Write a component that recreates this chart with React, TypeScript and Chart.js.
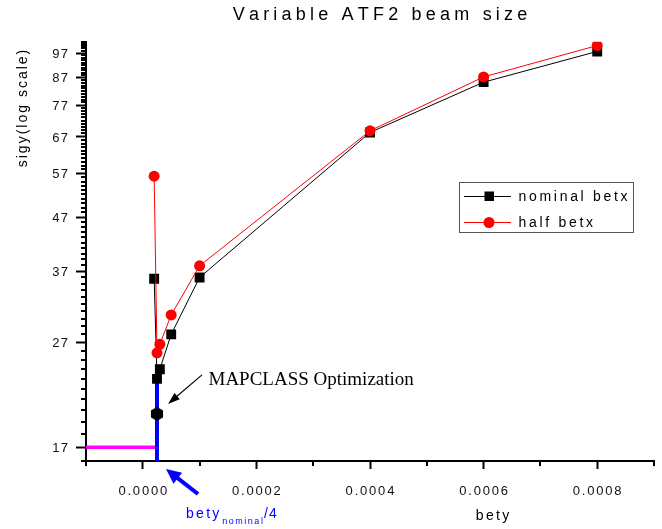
import React, { useEffect, useRef } from 'react';
import { Chart, registerables } from 'chart.js';

Chart.register(...registerables);

// ---- data ----
const BETY = [0.00002, 0.000025, 0.00003, 0.00005, 0.0001, 0.0004, 0.0006, 0.0008];
const SIGY_NOMINAL_BETX = [35.8, 23.0, 24.0, 28.0, 36.0, 68.3, 85.3, 97.7];
const SIGY_HALF_BETX = [56.3, 25.8, 26.8, 30.5, 37.9, 68.8, 87.3, 100.3];
const MAPCLASS_BETY = [0.000025];
const MAPCLASS_SIGY = [19.7];
const BETY_NOMINAL_QUARTER = 0.000025;
const SIGY_TARGET = 17;
const BLUE_LINE_SIGY = [16, 23.2];

const X_MIN = -0.0001;
const X_MAX = 0.0009;
const X_TICKS = [-0.0001, 0, 0.0001, 0.0002, 0.0003, 0.0004, 0.0005, 0.0006, 0.0007, 0.0008, 0.0009];
const Y_MIN = 16;
const Y_MAX = 102;
const Y_LABELS = [17, 27, 37, 47, 57, 67, 77, 87, 97];
const Y_TICKS: number[] = [];
for (let v = Y_MIN; v <= Y_MAX; v++) Y_TICKS.push(v);

const SANS = '"Liberation Sans", Arial, sans-serif';
const SERIF = '"Liberation Serif", "Times New Roman", serif';

const isMajorX = (v: number) => Math.round(v * 1e4) % 2 === 0;
const isMajorY = (v: number) => Y_LABELS.includes(Math.round(v));
const xLabel = (v: number) => (isMajorX(v) ? (Math.abs(v) < 1e-12 ? 0 : v).toFixed(4) : '');
const yLabel = (v: number) => (isMajorY(v) ? String(Math.round(v)) : '');

function spacedWidth(ctx: CanvasRenderingContext2D, text: string, sp: number) {
  let w = 0;
  for (const ch of text) w += ctx.measureText(ch).width + sp;
  return w - sp;
}

function drawSpaced(
  ctx: CanvasRenderingContext2D,
  text: string,
  x: number,
  y: number,
  sp: number,
  align: 'left' | 'center' | 'right' = 'left'
) {
  const w = spacedWidth(ctx, text, sp);
  let cx = align === 'center' ? x - w / 2 : align === 'right' ? x - w : x;
  ctx.textAlign = 'left';
  for (const ch of text) {
    ctx.fillText(ch, cx, y);
    cx += ctx.measureText(ch).width + sp;
  }
  return cx - sp;
}

function drawArrow(
  ctx: CanvasRenderingContext2D,
  x0: number, y0: number, x1: number, y1: number,
  lw: number, headLen: number, headW: number, color: string
) {
  const ang = Math.atan2(y1 - y0, x1 - x0);
  const bx = x1 - headLen * Math.cos(ang);
  const by = y1 - headLen * Math.sin(ang);
  ctx.strokeStyle = color;
  ctx.fillStyle = color;
  ctx.lineWidth = lw;
  ctx.beginPath();
  ctx.moveTo(x0, y0);
  ctx.lineTo(bx + Math.cos(ang), by + Math.sin(ang));
  ctx.stroke();
  ctx.beginPath();
  ctx.moveTo(x1, y1);
  ctx.lineTo(bx + (headW / 2) * Math.sin(ang), by - (headW / 2) * Math.cos(ang));
  ctx.lineTo(bx - (headW / 2) * Math.sin(ang), by + (headW / 2) * Math.cos(ang));
  ctx.closePath();
  ctx.fill();
}

function makeHexagon(r: number) {
  const c = document.createElement('canvas');
  const s = Math.ceil(r * 2 + 2);
  c.width = s;
  c.height = s;
  const g = c.getContext('2d')!;
  g.fillStyle = '#000';
  g.beginPath();
  for (let i = 0; i < 6; i++) {
    const a = (Math.PI / 3) * i + Math.PI / 6;
    const px = s / 2 + r * Math.cos(a);
    const py = s / 2 + r * Math.sin(a);
    if (i === 0) g.moveTo(px, py);
    else g.lineTo(px, py);
  }
  g.closePath();
  g.fill();
  return c;
}

const decorPlugin = {
  id: 'decor',
  afterDraw(chart: any) {
    const ctx: CanvasRenderingContext2D = chart.ctx;
    const { x, y } = chart.scales;
    const area = chart.chartArea;
    ctx.save();

    // minor ticks
    ctx.strokeStyle = '#000';
    ctx.lineWidth = 2;
    ctx.beginPath();
    for (const v of Y_TICKS) {
      if (isMajorY(v)) continue;
      const py = Math.round(y.getPixelForValue(v));
      ctx.moveTo(area.left - 5, py);
      ctx.lineTo(area.left, py);
    }
    for (const v of X_TICKS) {
      if (isMajorX(v)) continue;
      const px = Math.round(x.getPixelForValue(v));
      ctx.moveTo(px, area.bottom);
      ctx.lineTo(px, area.bottom + 5);
    }
    ctx.stroke();

    // tick labels (letter-spaced), placed with the scales
    ctx.fillStyle = '#111';
    ctx.textBaseline = 'alphabetic';
    ctx.font = `13px ${SANS}`;
    for (const t of x.ticks) {
      const lab = xLabel(t.value);
      if (!lab) continue;
      drawSpaced(ctx, lab, x.getPixelForValue(t.value), area.bottom + 33.5, 1.8, 'center');
    }
    for (const t of y.ticks) {
      const lab = yLabel(t.value);
      if (!lab) continue;
      drawSpaced(ctx, lab, area.left - 18, y.getPixelForValue(t.value) + 4.7, 1.2, 'right');
    }

    // title
    ctx.fillStyle = '#000';
    ctx.font = `18px ${SANS}`;
    drawSpaced(ctx, 'Variable ATF2 beam size', 380, 19.5, 4.2, 'center');

    // y axis title
    ctx.save();
    ctx.translate(27, 108.5);
    ctx.rotate(-Math.PI / 2);
    ctx.font = `14px ${SANS}`;
    drawSpaced(ctx, 'sigy(log scale)', 0, 0, 2, 'center');
    ctx.restore();

    // x axis title
    ctx.font = `14px ${SANS}`;
    drawSpaced(ctx, 'bety', 492.5, 520, 2.3, 'center');

    // bety_nominal/4 label
    ctx.fillStyle = '#0000ff';
    const bx = x.getPixelForValue(BETY_NOMINAL_QUARTER);
    ctx.font = `14px ${SANS}`;
    let cx = drawSpaced(ctx, 'bety', bx + 29, 518, 2.3);
    ctx.font = `9px ${SANS}`;
    cx = drawSpaced(ctx, 'nominal', cx + 3, 524, 1.5);
    ctx.font = `14px ${SANS}`;
    drawSpaced(ctx, '/4', cx + 1, 518, 1.2);

    // blue arrow
    drawArrow(ctx, bx + 41, area.bottom + 33, bx + 9, area.bottom + 8, 4, 15, 14, '#0000ff');

    // MAPCLASS annotation
    const hx = x.getPixelForValue(MAPCLASS_BETY[0]);
    const hy = y.getPixelForValue(MAPCLASS_SIGY[0]);
    drawArrow(ctx, hx + 45, hy - 39, hx + 11, hy - 10, 1.2, 12, 8, '#000');
    ctx.fillStyle = '#000';
    ctx.font = `19px ${SERIF}`;
    ctx.textAlign = 'left';
    ctx.fillText('MAPCLASS Optimization', hx + 51.5, hy - 28.5);

    // legend
    const lx = 459.5, ly = 182.5, lw = 174, lh = 50;
    ctx.strokeStyle = '#555';
    ctx.lineWidth = 1;
    ctx.strokeRect(lx, ly, lw, lh);
    const rows = [
      { label: 'nominal betx', color: '#000', marker: 'rect', cy: 196 },
      { label: 'half betx', color: '#ff0000', marker: 'circle', cy: 222 },
    ];
    for (const r of rows) {
      ctx.strokeStyle = r.color;
      ctx.fillStyle = r.color;
      ctx.lineWidth = 1;
      ctx.beginPath();
      ctx.moveTo(464, r.cy + 0.5);
      ctx.lineTo(511, r.cy + 0.5);
      ctx.stroke();
      if (r.marker === 'rect') {
        ctx.fillRect(484.5, r.cy - 4.5, 9.5, 9.5);
      } else {
        ctx.beginPath();
        ctx.arc(489, r.cy + 0.5, 5.5, 0, Math.PI * 2);
        ctx.fill();
      }
      ctx.fillStyle = '#000';
      ctx.font = `14px ${SANS}`;
      drawSpaced(ctx, r.label, 518.5, r.cy + 5, 2.7);
    }
    ctx.restore();
  },
};

export default function App() {
  const ref = useRef<HTMLCanvasElement>(null);

  useEffect(() => {
    document.body.style.margin = '0';
    const canvas = ref.current!;
    Chart.defaults.font.family = SANS;
    const hex = makeHexagon(7);

    const chart = new Chart(canvas, {
      type: 'line',
      data: {
        datasets: [
          {
            label: 'half betx',
            data: BETY.map((b, i) => ({ x: b, y: SIGY_HALF_BETX[i] })),
            borderColor: '#ff0000',
            backgroundColor: '#ff0000',
            borderWidth: 1,
            pointStyle: 'circle',
            pointRadius: 5.5,
            pointBorderWidth: 0,
            pointBackgroundColor: '#ff0000',
            order: 0,
          },
          {
            label: 'nominal betx',
            data: BETY.map((b, i) => ({ x: b, y: SIGY_NOMINAL_BETX[i] })),
            borderColor: '#000000',
            backgroundColor: '#000000',
            borderWidth: 1,
            pointStyle: 'rect',
            pointRadius: 7,
            pointBorderWidth: 0,
            pointBackgroundColor: '#000000',
            order: 1,
          },
          {
            label: 'MAPCLASS Optimization',
            data: MAPCLASS_BETY.map((b, i) => ({ x: b, y: MAPCLASS_SIGY[i] })),
            showLine: false,
            pointStyle: hex as any,
            pointRadius: 7,
            order: -1,
          },
          {
            label: 'bety_nominal/4',
            data: BLUE_LINE_SIGY.map((s) => ({ x: BETY_NOMINAL_QUARTER, y: s })),
            borderColor: '#0000ff',
            borderWidth: 4,
            pointRadius: 0,
            clip: 4,
            order: 2,
          },
          {
            label: 'target',
            data: [
              { x: X_MIN, y: SIGY_TARGET },
              { x: BETY_NOMINAL_QUARTER, y: SIGY_TARGET },
            ],
            borderColor: '#ff00ff',
            borderWidth: 3.5,
            pointRadius: 0,
            clip: 4,
            order: 3,
          },
        ] as any,
      },
      options: {
        responsive: false,
        animation: false,
        events: [],
        layout: { padding: { left: 0, top: 41.7, right: 7, bottom: 0 } },
        plugins: {
          legend: { display: false },
          title: { display: false },
          tooltip: { enabled: false },
        },
        scales: {
          x: {
            type: 'linear',
            min: X_MIN,
            max: X_MAX,
            afterBuildTicks: (s: any) => {
              s.ticks = X_TICKS.map((v) => ({ value: v }));
            },
            afterFit: (s: any) => {
              s.height = 68;
            },
            border: { display: true, color: '#000', width: 2 },
            grid: {
              drawOnChartArea: false,
              drawTicks: true,
              tickLength: 8,
              tickWidth: 2,
              tickColor: (c: any) => (c.tick && isMajorX(c.tick.value) ? '#000' : 'rgba(0,0,0,0)'),
            },
            ticks: {
              display: false,
              autoSkip: false,
              maxRotation: 0,
              minRotation: 0,
              callback: (v: any) => xLabel(Number(v)),
            },
          },
          y: {
            type: 'logarithmic',
            min: Y_MIN,
            max: Y_MAX,
            afterBuildTicks: (s: any) => {
              s.ticks = Y_TICKS.map((v) => ({ value: v }));
            },
            afterFit: (s: any) => {
              s.width = 86;
            },
            border: { display: true, color: '#000', width: 2 },
            grid: {
              drawOnChartArea: false,
              drawTicks: true,
              tickLength: 10,
              tickWidth: 2,
              tickColor: (c: any) => (c.tick && isMajorY(c.tick.value) ? '#000' : 'rgba(0,0,0,0)'),
            },
            ticks: {
              display: false,
              autoSkip: false,
              callback: (v: any) => yLabel(Number(v)),
            },
          },
        },
      },
      plugins: [decorPlugin],
    });

    return () => chart.destroy();
  }, []);

  return (
    <div style={{ width: 662, height: 529, position: 'relative', background: '#fff' }}>
      <canvas ref={ref} width={662} height={529} style={{ display: 'block' }} />
    </div>
  );
}
